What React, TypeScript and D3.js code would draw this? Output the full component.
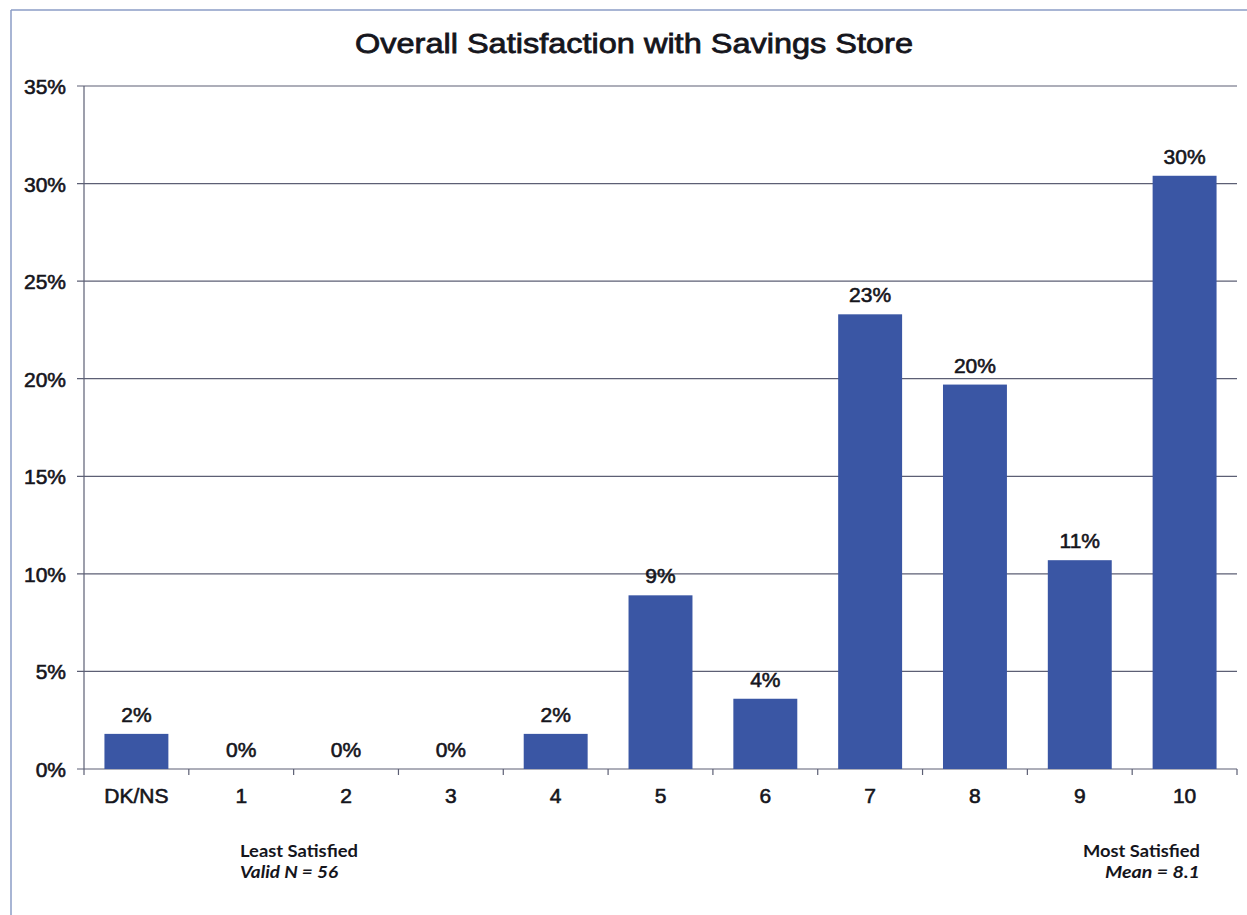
import React from "react";
import * as d3 from "d3";

const categories = ["DK/NS", "1", "2", "3", "4", "5", "6", "7", "8", "9", "10"];
const values = [1.8, 0, 0, 0, 1.8, 8.9, 3.6, 23.3, 19.7, 10.7, 30.4];
const yTicks = [0, 5, 10, 15, 20, 25, 30, 35];
const title = "Overall Satisfaction with Savings Store";
const leftNotes = ["Least Satisfied", "Valid N = 56"];
const rightNotes = ["Most Satisfied", "Mean = 8.1"];

const W = 1247;
const H = 915;
const plotLeft = 84;
const plotRight = 1237;
const plotTop = 86;
const plotBottom = 769;
const barColor = "#3A56A4";
const gridColor = "#5c5f74";
const textColor = "#15151c";
const arial = "'Liberation Sans', Arial, sans-serif";
const noteFont = "Lato, 'Open Sans', sans-serif";

const labelStyle = { stroke: textColor, strokeWidth: 0.6 };

export default function App() {
  const x = d3
    .scaleBand<string>()
    .domain(categories)
    .range([plotLeft, plotRight])
    .paddingInner(0.39)
    .paddingOuter(0.195);
  const y = d3.scaleLinear().domain([0, 35]).range([plotBottom, plotTop]);
  const step = x.step();
  const boundaries = d3.range(categories.length + 1).map((i) => plotLeft + i * step);

  return (
    <svg
      width={W}
      height={H}
      style={{ position: "absolute", left: 0, top: 0, background: "#ffffff" }}
    >
      <rect x={0} y={0} width={W} height={H} fill="#ffffff" />
      <line x1={11} y1={10} x2={W} y2={10} stroke="#8b9cc6" strokeWidth={1.5} />
      <line x1={11} y1={10} x2={11} y2={H} stroke="#8b9cc6" strokeWidth={1.5} />

      <text
        x={634}
        y={53}
        textAnchor="middle"
        fontFamily={arial}
        fontSize={28}
        fill={textColor}
        stroke={textColor}
        strokeWidth={0.8}
        textLength={558}
        lengthAdjust="spacingAndGlyphs"
      >
        {title}
      </text>

      {yTicks.map((t) => (
        <g key={t}>
          <line
            x1={77}
            x2={plotRight}
            y1={y(t)}
            y2={y(t)}
            stroke={gridColor}
            strokeWidth={1.2}
          />
          <text
            x={66}
            y={y(t) + 8}
            textAnchor="end"
            fontFamily={arial}
            fontSize={21}
            fill={textColor}
            style={labelStyle}
          >
            {t}%
          </text>
        </g>
      ))}

      <line x1={plotLeft} x2={plotLeft} y1={plotTop} y2={plotBottom} stroke={gridColor} strokeWidth={1.2} />

      {boundaries.map((bx, i) => (
        <line key={i} x1={bx} x2={bx} y1={plotBottom} y2={plotBottom + 6} stroke={gridColor} strokeWidth={1.2} />
      ))}

      {categories.map((c, i) => (
        <rect
          key={c}
          x={x(c)}
          y={y(values[i])}
          width={x.bandwidth()}
          height={plotBottom - y(values[i])}
          fill={barColor}
        />
      ))}

      {categories.map((c, i) => (
        <text
          key={"l" + c}
          x={(x(c) as number) + x.bandwidth() / 2}
          y={y(values[i]) - 12}
          textAnchor="middle"
          fontFamily={arial}
          fontSize={21}
          fill={textColor}
          style={labelStyle}
        >
          {Math.round(values[i])}%
        </text>
      ))}

      {categories.map((c) => (
        <text
          key={"c" + c}
          x={(x(c) as number) + x.bandwidth() / 2}
          y={803}
          textAnchor="middle"
          fontFamily={arial}
          fontSize={21}
          fill={textColor}
          style={labelStyle}
        >
          {c}
        </text>
      ))}

      <text x={240} y={857} fontFamily={noteFont} fontWeight={700} fontSize={17} fill={textColor} textLength={118} lengthAdjust="spacingAndGlyphs">
        {leftNotes[0]}
      </text>
      <text x={240} y={878} fontFamily={noteFont} fontWeight={700} fontStyle="italic" fontSize={17} fill={textColor} textLength={98} lengthAdjust="spacingAndGlyphs">
        {leftNotes[1]}
      </text>
      <text x={1200} y={857} textAnchor="end" fontFamily={noteFont} fontWeight={700} fontSize={17} fill={textColor} textLength={117} lengthAdjust="spacingAndGlyphs">
        {rightNotes[0]}
      </text>
      <text x={1200} y={878} textAnchor="end" fontFamily={noteFont} fontWeight={700} fontStyle="italic" fontSize={17} fill={textColor} textLength={95} lengthAdjust="spacingAndGlyphs">
        {rightNotes[1]}
      </text>
    </svg>
  );
}
